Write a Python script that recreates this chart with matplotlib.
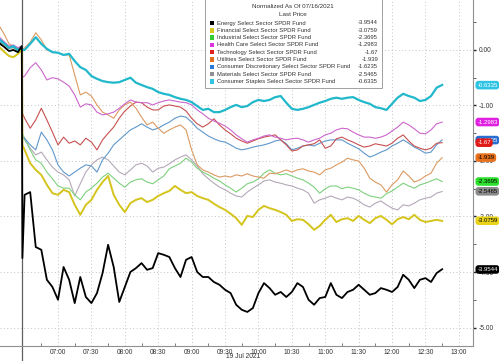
import numpy as np
import matplotlib.pyplot as plt
from matplotlib.patches import Rectangle

# time axis in minutes after midnight; the first 6 points are the tail of 16 Jul
time_min = [368, 372, 376, 380, 384, 387.5, 388] + list(range(390, 766, 5))

energy = [0.11, 0.05, -0.02, 0.00, -0.04, 0.07, -3.75,
          -2.61, -2.56, -3.55, -3.60, -4.14, -4.27, -4.50, -3.91, -4.14, -4.56,
          -4.09, -4.45, -4.56, -4.38, -4.02, -3.51, -3.91, -4.54, -4.27, -4.00,
          -3.93, -3.84, -3.96, -3.93, -3.66, -3.69, -3.73, -3.93, -4.09, -3.78,
          -3.73, -4.00, -4.09, -4.09, -4.18, -4.23, -4.32, -4.38, -4.59, -4.68,
          -4.72, -4.65, -4.38, -4.20, -4.29, -4.41, -4.36, -4.45, -4.36, -4.20,
          -4.27, -4.50, -4.59, -4.47, -4.45, -4.20, -4.41, -4.47, -4.36, -4.32,
          -4.23, -4.32, -4.41, -4.38, -4.29, -4.32, -4.36, -4.27, -4.05, -4.14,
          -4.29, -4.14, -4.11, -4.18, -4.02, -3.95]
financial = [0.04, -0.04, -0.11, -0.13, -0.07, 0.00, -1.71,
             -1.80, -2.04, -2.16, -2.25, -2.43, -2.58, -2.61, -2.52, -2.56, -2.79,
             -2.97, -2.79, -2.70, -2.52, -2.38, -2.27, -2.61, -2.79, -2.92, -2.76,
             -2.70, -2.67, -2.74, -2.70, -2.63, -2.58, -2.54, -2.45, -2.52, -2.58,
             -2.56, -2.63, -2.67, -2.70, -2.77, -2.83, -2.88, -2.95, -3.03, -3.15,
             -2.99, -3.01, -2.88, -2.81, -2.85, -2.88, -2.92, -2.97, -3.08, -3.05,
             -3.06, -3.14, -3.24, -3.17, -3.06, -2.97, -3.10, -3.05, -3.03, -3.08,
             -2.99, -3.06, -3.12, -3.03, -2.99, -3.06, -3.14, -3.05, -3.01, -3.05,
             -2.97, -3.06, -3.10, -3.08, -3.06, -3.08]
industrial = [0.13, 0.09, 0.04, 0.04, -0.02, 0.04, -1.50,
              -1.59, -1.80, -1.98, -2.04, -2.20, -2.32, -2.45, -2.49, -2.49, -2.61,
              -2.70, -2.56, -2.49, -2.40, -2.29, -2.22, -2.31, -2.40, -2.47, -2.38,
              -2.34, -2.32, -2.38, -2.41, -2.34, -2.27, -2.14, -2.09, -2.04, -1.95,
              -2.02, -2.13, -2.20, -2.25, -2.31, -2.36, -2.43, -2.49, -2.56, -2.49,
              -2.41, -2.38, -2.32, -2.22, -2.16, -2.22, -2.25, -2.23, -2.27, -2.31,
              -2.34, -2.40, -2.47, -2.58, -2.50, -2.45, -2.45, -2.50, -2.47, -2.49,
              -2.52, -2.58, -2.63, -2.65, -2.67, -2.59, -2.54, -2.47, -2.40, -2.45,
              -2.49, -2.43, -2.40, -2.36, -2.32, -2.37]
health = [0.22, 0.14, 0.07, 0.09, 0.04, 0.07, -0.49,
          -0.47, -0.32, -0.23, -0.36, -0.54, -0.50, -0.52, -0.58, -0.65, -0.81,
          -1.03, -0.97, -0.99, -1.12, -1.17, -1.15, -1.12, -1.05, -0.97, -0.90,
          -0.94, -0.95, -0.95, -0.99, -0.95, -0.92, -0.90, -0.92, -0.94, -0.95,
          -0.99, -1.08, -1.15, -1.23, -1.28, -1.32, -1.37, -1.44, -1.53, -1.60,
          -1.66, -1.62, -1.59, -1.55, -1.53, -1.57, -1.59, -1.62, -1.60, -1.59,
          -1.62, -1.66, -1.62, -1.59, -1.53, -1.50, -1.44, -1.41, -1.42, -1.48,
          -1.53, -1.57, -1.57, -1.59, -1.57, -1.53, -1.46, -1.39, -1.30, -1.35,
          -1.42, -1.50, -1.51, -1.44, -1.33, -1.30]
technology = [0.18, 0.13, 0.05, 0.07, 0.02, 0.05, -1.14,
              -1.23, -1.41, -1.26, -1.05, -1.26, -1.48, -1.71, -1.57, -1.68, -1.64,
              -1.71, -1.59, -1.66, -1.80, -1.62, -1.50, -1.39, -1.23, -1.10, -1.01,
              -0.94, -0.95, -1.03, -1.08, -1.08, -1.01, -0.99, -1.01, -1.03, -1.10,
              -1.23, -1.33, -1.39, -1.33, -1.24, -1.35, -1.44, -1.51, -1.59, -1.64,
              -1.68, -1.64, -1.60, -1.57, -1.55, -1.53, -1.62, -1.71, -1.82, -1.80,
              -1.73, -1.71, -1.69, -1.62, -1.77, -1.73, -1.60, -1.57, -1.62, -1.66,
              -1.71, -1.75, -1.73, -1.69, -1.71, -1.73, -1.68, -1.59, -1.53, -1.64,
              -1.73, -1.77, -1.80, -1.77, -1.68, -1.67]
utilities = [0.41, 0.27, 0.11, 0.07, 0.04, 0.07, 0.00,
             0.04, 0.14, 0.31, 0.18, 0.00, -0.04, -0.05, -0.09, -0.09, -0.45,
             -0.81, -0.76, -0.83, -0.99, -1.12, -1.17, -1.23, -1.08, -0.99, -0.94,
             -1.05, -1.21, -1.35, -1.30, -1.41, -1.50, -1.44, -1.39, -1.35, -1.44,
             -1.80, -2.07, -2.16, -2.20, -2.25, -2.29, -2.27, -2.29, -2.25, -2.27,
             -2.23, -2.27, -2.29, -2.31, -2.22, -2.23, -2.20, -2.16, -2.20, -2.16,
             -2.14, -2.18, -2.20, -2.25, -2.16, -2.13, -2.07, -2.02, -1.95, -1.98,
             -2.00, -2.13, -2.31, -2.38, -2.43, -2.56, -2.43, -2.34, -2.18, -2.27,
             -2.38, -2.34, -2.27, -2.22, -2.04, -1.94]
discretionary = [0.14, 0.11, 0.04, 0.05, 0.00, 0.04, -1.57,
                 -1.59, -1.71, -1.80, -1.48, -1.62, -1.80, -2.07, -2.20, -2.27, -2.20,
                 -2.13, -2.07, -2.09, -2.20, -1.98, -1.86, -1.71, -1.62, -1.53, -1.44,
                 -1.39, -1.33, -1.39, -1.44, -1.41, -1.35, -1.30, -1.23, -1.19, -1.21,
                 -1.30, -1.41, -1.48, -1.55, -1.60, -1.64, -1.66, -1.71, -1.77, -1.80,
                 -1.78, -1.75, -1.73, -1.71, -1.68, -1.64, -1.62, -1.69, -1.80, -1.77,
                 -1.73, -1.71, -1.73, -1.68, -1.64, -1.62, -1.62, -1.62, -1.68, -1.73,
                 -1.78, -1.86, -1.93, -1.89, -1.84, -1.80, -1.73, -1.68, -1.62, -1.68,
                 -1.75, -1.80, -1.86, -1.84, -1.71, -1.62]
materials = [0.14, 0.09, 0.02, 0.04, 0.00, 0.04, -1.53,
             -1.62, -1.77, -1.89, -1.84, -1.98, -2.11, -2.20, -2.25, -2.34, -2.63,
             -2.41, -2.20, -2.07, -1.98, -1.93, -1.98, -2.09, -2.20, -2.25, -2.16,
             -2.07, -2.04, -2.09, -2.20, -2.13, -2.11, -2.05, -1.98, -1.93, -1.89,
             -1.98, -2.09, -2.23, -2.32, -2.40, -2.47, -2.52, -2.58, -2.63, -2.65,
             -2.56, -2.49, -2.43, -2.36, -2.34, -2.38, -2.40, -2.43, -2.45, -2.49,
             -2.52, -2.58, -2.76, -2.70, -2.67, -2.63, -2.67, -2.70, -2.65, -2.67,
             -2.72, -2.79, -2.83, -2.76, -2.72, -2.79, -2.85, -2.88, -2.79, -2.81,
             -2.76, -2.70, -2.67, -2.65, -2.58, -2.55]
staples = [0.18, 0.11, 0.04, 0.07, 0.00, 0.05, 0.00,
           0.00, 0.11, 0.23, 0.11, 0.02, -0.04, -0.05, -0.09, -0.07, -0.20,
           -0.31, -0.36, -0.47, -0.52, -0.56, -0.58, -0.59, -0.58, -0.54, -0.50,
           -0.59, -0.63, -0.67, -0.70, -0.76, -0.79, -0.81, -0.85, -0.88, -0.90,
           -0.94, -1.01, -1.08, -1.06, -1.12, -1.12, -1.08, -1.03, -0.99, -1.03,
           -1.01, -0.94, -0.90, -0.92, -0.90, -0.85, -0.83, -0.95, -1.06, -1.08,
           -1.06, -1.03, -0.99, -0.95, -0.92, -0.88, -0.86, -0.88, -0.86, -0.85,
           -0.90, -0.94, -0.97, -1.03, -1.05, -1.08, -0.97, -0.86, -0.79, -0.83,
           -0.86, -0.92, -0.90, -0.83, -0.68, -0.63]

names = ["Energy Select Sector SPDR Fund", "Financial Select Sector SPDR Fund",
         "Industrial Select Sector SPDR Fund", "Health Care Select Sector SPDR Fund",
         "Technology Select Sector SPDR Fund", "Utilities Select Sector SPDR Fund",
         "Consumer Discretionary Select Sector SPDR Fund", "Materials Select Sector SPDR Fund",
         "Consumer Staples Select Sector SPDR Fund"]
last_price = [-3.9544, -3.0759, -2.3695, -1.2983, -1.67, -1.939, -1.6235, -2.5465, -0.6335]
last_text = ["-3.9544", "-3.0759", "-2.3695", "-1.2983", "-1.67", "-1.939", "-1.6235", "-2.5465", "-0.6335"]
series = [energy, financial, industrial, health, technology, utilities, discretionary, materials, staples]

line_colors = ["#000000", "#d4c41c", "#7fd07f", "#cc66cc", "#c85050", "#dc9a62", "#5f98cc", "#b4a8b8", "#22b8cc"]
tag_colors = ["#000000", "#e8d21a", "#2ee02e", "#e020e0", "#e01818", "#e8701c", "#2a6fd0", "#8a8a8a", "#30c4e4"]
tag_text = ["white", "black", "black", "white", "white", "black", "white", "black", "white"]
legend_sq = ["#000000", "#d8c820", "#33cc33", "#dd33dd", "#dd2222", "#e07020", "#2a78d8", "#909090", "#30c4e0"]
widths = [1.3, 1.4, 0.8, 0.8, 0.8, 0.8, 0.8, 0.8, 1.6]

small = "Liberation Sans"

fig = plt.figure(figsize=(4.99, 3.61), dpi=100)
ax = fig.add_axes([0, 15 / 361, 473 / 499, 346 / 361])

draw_order = [7, 2, 6, 4, 5, 3, 1, 8, 0]
for i in draw_order:
    ax.plot(time_min, series[i], color=line_colors[i], lw=widths[i], zorder=3 + draw_order.index(i))

ax.axvline(387.7, color="#606060", lw=0.9, ymin=-0.045, clip_on=False, zorder=2)

ax.set_xlim(367.9, 792.7)
ax.set_ylim(-5.333, 0.9)

xt = list(range(420, 781, 30))
ax.set_xticks(xt)
ax.set_xticklabels(["%02d:%02d" % (m // 60, m % 60) for m in xt], family=small)
ax.set_xticks(list(range(405, 781, 30)), minor=True)
ax.set_yticks(range(-5, 1))
ax.set_yticklabels(["%.2f" % v for v in range(-5, 1)], family=small)
ax.set_yticks(np.arange(-4.5, 0.6, 1.0), minor=True)
ax.yaxis.tick_right()
ax.tick_params(axis="x", which="major", length=0, labelsize=4.8, pad=2, labelcolor="#333333")
ax.tick_params(axis="x", which="minor", direction="in", length=2.5, width=0.6, color="#666666")
ax.tick_params(axis="y", which="major", direction="out", length=2.5, width=1.0, labelsize=4.8,
               pad=1.5, labelcolor="#333333", color="#222222")
ax.tick_params(axis="y", which="minor", direction="out", length=2, width=0.6, color="#444444")
ax.grid(True, which="major", color="#c4c4c4", lw=0.7, linestyle=(0, (1, 2.5)))
for s in ["left", "top"]:
    ax.spines[s].set_visible(False)
for s in ["right", "bottom"]:
    ax.spines[s].set_color("#909090")
    ax.spines[s].set_linewidth(0.8)

ax.text(586, -0.031, "19 Jul 2021", transform=ax.get_xaxis_transform(), ha="center",
        va="center", fontsize=4.8, family=small, color="#333333", clip_on=False)

# last price tags on the right axis
for i in [0, 1, 7, 2, 5, 6, 4, 3, 8]:
    ax.text(1.009, last_price[i], last_text[i], transform=ax.get_yaxis_transform(),
            ha="left", va="center", fontsize=4.3, family=small, color=tag_text[i], clip_on=False, zorder=20,
            bbox=dict(boxstyle="round,pad=0.3,rounding_size=0.5", fc=tag_colors[i], ec="none"))

# legend box
fig.add_artist(Rectangle((205 / 499, 1 - 88 / 361), 177 / 499, 90 / 361, transform=fig.transFigure,
                         fc="white", ec="#a0a0a0", lw=0.7, zorder=10))
fig.text(293 / 499, 1 - 7 / 361, "Normalized As Of 07/16/2021", ha="center", va="center",
         fontsize=4.5, family=small, color="#333333", zorder=11)
fig.text(293 / 499, 1 - 15 / 361, "Last Price", ha="center", va="center",
         fontsize=4.5, family=small, color="#333333", zorder=11)
for k in range(len(names)):
    yy = 1 - (23 + 7.3 * k) / 361
    fig.add_artist(Rectangle((210 / 499, yy - 2.2 / 361), 4.4 / 499, 4.4 / 361, transform=fig.transFigure,
                             fc=legend_sq[k], ec="none", zorder=11))
    fig.text(217 / 499, yy, names[k], ha="left", va="center", fontsize=4.2, family=small,
             color="#333333", zorder=11)
    fig.text(378 / 499, yy, last_text[k], ha="right", va="center", fontsize=4.2, family=small,
             color="#333333", zorder=11)

fig.savefig("out.png", dpi=100)
